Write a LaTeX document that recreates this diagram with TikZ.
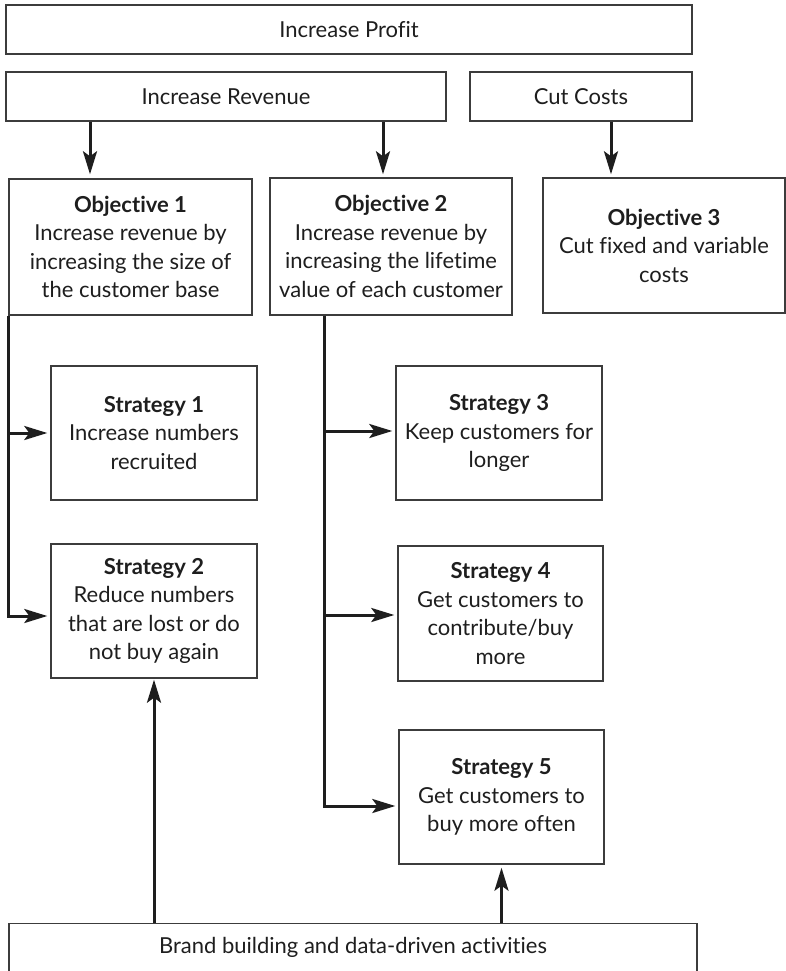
\documentclass[tikz,border=0pt]{standalone}
\usepackage{fontspec}
\setmainfont{Lato}[Ligatures=NoCommon]
\usetikzlibrary{arrows.meta}
\definecolor{ink}{HTML}{1E1E1E}
\definecolor{frame}{HTML}{3C3C3C}
\begin{document}
\begin{tikzpicture}[x=1pt,y=-1pt,
  box/.style={draw=frame,line width=1.4pt,fill=white,align=center,
    text=ink,inner sep=0pt,
    font=\fontsize{22pt}{28.5pt}\selectfont},
  conn/.style={draw=ink,line width=3pt},
  tip/.style={conn,-{Stealth[length=23pt,width=14pt,inset=5pt]},shorten >=3pt}]
\clip (0,0) rectangle (786,971);
\fill[white] (0,0) rectangle (786,971);

% goal level
\node[box,minimum width=686pt,minimum height=49pt] (profit) at (349,29.5) {Increase Profit};
\node[box,minimum width=440pt,minimum height=49pt] (revenue) at (226,96.5) {Increase Revenue};
\node[box,minimum width=222pt,minimum height=49pt] (costs) at (581,96.5) {Cut Costs};

% objectives
\node[box,minimum width=243pt,minimum height=136pt] (obj1) at (130.5,247)
  {\textbf{Objective 1}\\Increase revenue by\\increasing the size of\\the customer base};
\node[box,minimum width=242pt,minimum height=137pt] (obj2) at (391,246.5)
  {\textbf{Objective 2}\\Increase revenue by\\increasing the lifetime\\value of each customer};
\node[box,minimum width=242pt,minimum height=135pt] (obj3) at (664,245.5)
  {\textbf{Objective 3}\\Cut fixed and variable\\costs};

% strategies
\node[box,minimum width=206pt,minimum height=134pt] (s1) at (154,433)
  {\textbf{Strategy 1}\\Increase numbers\\recruited};
\node[box,minimum width=206pt,minimum height=134pt] (s2) at (154,611)
  {\textbf{Strategy 2}\\Reduce numbers\\that are lost or do\\not buy again};
\node[box,minimum width=206pt,minimum height=134pt] (s3) at (499,433)
  {\textbf{Strategy 3}\\Keep customers for\\longer};
\node[box,minimum width=205pt,minimum height=135pt] (s4) at (500.5,613.5)
  {\textbf{Strategy 4}\\Get customers to\\contribute/buy\\more};
\node[box,minimum width=205pt,minimum height=134pt] (s5) at (501.5,797)
  {\textbf{Strategy 5}\\Get customers to\\buy more often};

% foundation box, running off the lower edge
\node[box,anchor=north,minimum width=688pt,text height=16pt,text depth=40pt,
  inner ysep=14pt] (brand) at (353,923) {Brand building and data-driven activities};

% connector columns
\coordinate (a1) at (90,0);
\coordinate (a2) at (383,0);
\coordinate (a3) at (611,0);
\coordinate (t2) at (324,0);

\draw[tip,shorten >=4pt] (revenue.south -| a1) -- (obj1.north -| a1);
\draw[tip,shorten >=3pt] (revenue.south -| a2) -- (obj2.north -| a2);
\draw[tip,shorten >=3pt] (costs.south -| a3) -- (obj3.north -| a3);

% objective 1 trunk
\draw[tip] (obj1.south west) -- ([yshift=-5pt]s2.west -| obj1.south west) -- ([yshift=-5pt]s2.west);
\draw[tip] (s1.west -| obj1.south west) -- (s1.west);

% objective 2 trunk
\draw[tip] (obj2.south -| t2) -- ([yshift=-9pt]s5.west -| t2) -- ([yshift=-9pt]s5.west);
\draw[tip] ([yshift=2pt]s3.west -| t2) -- ([yshift=2pt]s3.west);
\draw[tip] ([yshift=-1.5pt]s4.west -| t2) -- ([yshift=-1.5pt]s4.west);

% upward links from the foundation
\draw[tip,shorten >=1pt] (brand.north -| s2.south) -- (s2.south);
\draw[tip,shorten >=3pt] (brand.north -| s5.south) -- (s5.south);
\end{tikzpicture}
\end{document}
